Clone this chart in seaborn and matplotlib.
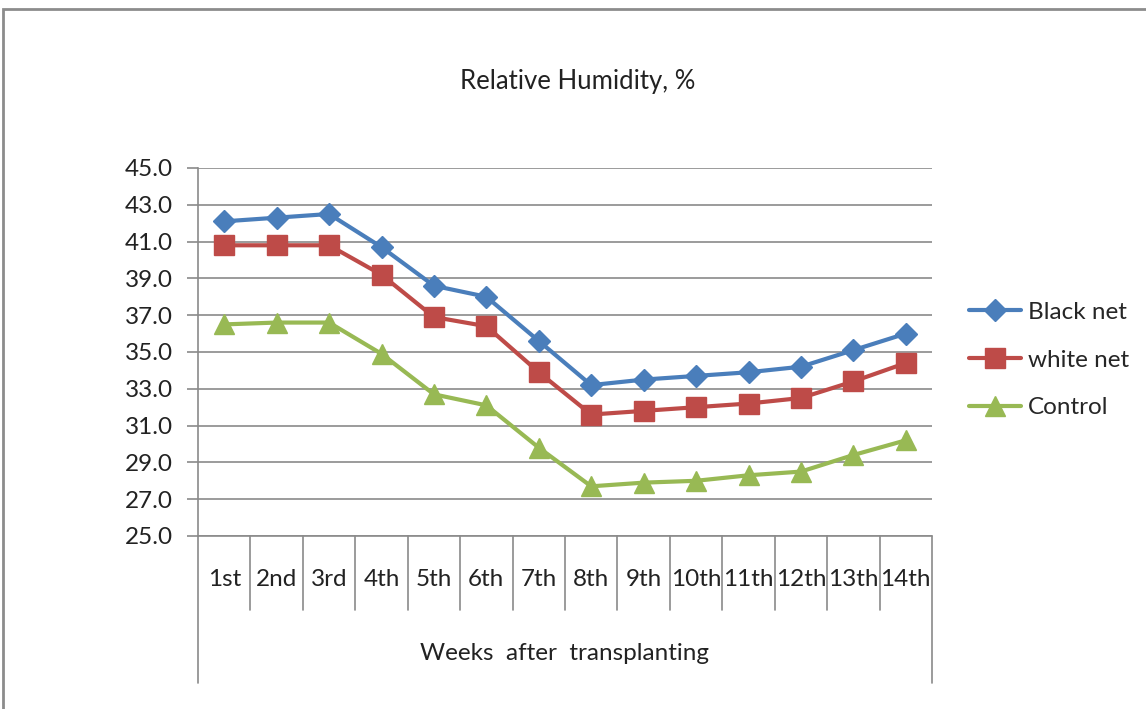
import pandas as pd
import seaborn as sns
import matplotlib.pyplot as plt
from matplotlib.transforms import blended_transform_factory
from matplotlib.lines import Line2D
from matplotlib.patches import Rectangle

weeks = ['1st', '2nd', '3rd', '4th', '5th', '6th', '7th', '8th', '9th',
         '10th', '11th', '12th', '13th', '14th']
black_net = [42.1, 42.3, 42.5, 40.7, 38.6, 38.0, 35.6, 33.2, 33.5, 33.7, 33.9, 34.2, 35.1, 36.0]
white_net = [40.8, 40.8, 40.8, 39.2, 36.9, 36.4, 33.9, 31.6, 31.8, 32.0, 32.2, 32.5, 33.4, 34.4]
control = [36.5, 36.6, 36.6, 34.9, 32.7, 32.1, 29.8, 27.7, 27.9, 28.0, 28.3, 28.5, 29.4, 30.2]
y_ticks = [25.0, 27.0, 29.0, 31.0, 33.0, 35.0, 37.0, 39.0, 41.0, 43.0, 45.0]

series = {'Black net': black_net, 'white net': white_net, 'Control': control}
colors = {'Black net': '#4A7EBB', 'white net': '#BE4B48', 'Control': '#98B954'}
markers = {'Black net': 'D', 'white net': 's', 'Control': '^'}
msizes = {'Black net': 11.5, 'white net': 14, 'Control': 14}

FS = 17.5
TXT = '#222222'
GRID = '#8a8a8a'

sns.set_style("white")
plt.rcParams['font.family'] = ['Lato', 'DejaVu Sans']

fig = plt.figure(figsize=(11.46, 7.09), dpi=100)
ax = fig.add_axes([198 / 1146, 1 - 536 / 709, (932 - 198) / 1146, (536 - 168) / 709])

# outer chart border
fig.add_artist(Rectangle((3 / 1146, -0.01), 1.1, 1 - 9 / 709 + 0.01, transform=fig.transFigure,
                         fill=False, edgecolor='#8c8c8c', linewidth=2))

x = list(range(len(weeks)))
for name, vals in series.items():
    df = pd.DataFrame({'week': x, 'value': vals})
    sns.lineplot(data=df, x='week', y='value', ax=ax, color=colors[name], linewidth=3,
                 marker=markers[name], markersize=msizes[name], markeredgecolor=colors[name],
                 markeredgewidth=1, label=name, zorder=3)

ax.set_xlim(-0.5, len(weeks) - 0.5)
ax.set_ylim(25, 45)
ax.set_yticks(y_ticks)
ax.set_yticklabels([f'{v:.1f}' for v in y_ticks], fontsize=FS, color=TXT)
ax.grid(axis='y', color=GRID, linewidth=1.2)
ax.grid(axis='x', visible=False)
for s in ['top', 'right', 'bottom']:
    ax.spines[s].set_visible(False)
ax.spines['left'].set_color(GRID)
ax.spines['left'].set_linewidth(1.2)
ax.tick_params(axis='y', length=8, width=1.2, color=GRID, pad=10, left=True)

ax.set_xticks(x)
ax.set_xticklabels(weeks, fontsize=FS, color=TXT, va='center')
ax.tick_params(axis='x', length=0, pad=31)
ax.set_xlabel('')
ax.set_ylabel('')

# category separators below the axis
tr = blended_transform_factory(ax.transData, ax.transAxes)
ax.add_line(Line2D([-0.5, len(weeks) - 0.5], [0, 0], transform=tr, color=GRID,
                   linewidth=1.2, clip_on=False))
for i in range(len(weeks) + 1):
    bottom = -0.4 if i in (0, len(weeks)) else -0.2
    ax.add_line(Line2D([i - 0.5, i - 0.5], [0, bottom], transform=tr, color=GRID,
                       linewidth=1.2, clip_on=False))
ax.text(0.5, -0.32, 'Weeks  after  transplanting', transform=ax.transAxes,
        ha='center', va='center', fontsize=FS, color=TXT)

fig.text(578 / 1146, 1 - 82 / 709, 'Relative Humidity, %', ha='center', va='center',
         fontsize=18.5, color=TXT)

ax.legend(loc='center left', bbox_to_anchor=(959 / 1146, 1 - 360 / 709),
          bbox_transform=fig.transFigure, frameon=False, fontsize=FS,
          handlelength=2.15, handletextpad=0.3, labelspacing=1.1, borderaxespad=0)

fig.savefig('out.png', dpi=100)
